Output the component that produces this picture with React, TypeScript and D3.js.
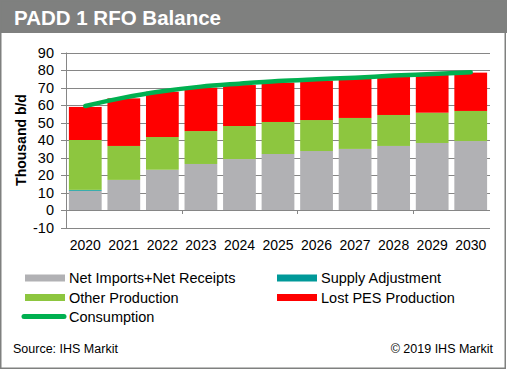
import * as d3 from "d3";

const years = ["2020", "2021", "2022", "2023", "2024", "2025", "2026", "2027", "2028", "2029", "2030"];
const netImports = [11, 17.2, 23, 26.3, 29.1, 32, 33.7, 34.9, 36.6, 38.3, 39.4];
const supplyAdj = [0.5, 0, 0, 0, 0, 0, 0, 0, 0, 0, 0];
const otherProd = [28.5, 19.4, 18.7, 18.8, 18.9, 18.3, 17.7, 17.7, 17.7, 17.3, 17.2];
const lostPes = [18.9, 27.2, 25.9, 24.8, 23.4, 22.5, 22.5, 22.4, 21.9, 21.7, 21.9];
const consumption = [59.4, 64.2, 67.8, 70.5, 72.2, 73.7, 74.7, 75.6, 76.8, 77.7, 78.7];
const yTicks = [-10, 0, 10, 20, 30, 40, 50, 60, 70, 80, 90];

const W = 507;
const H = 370;
const font = "'Liberation Sans', Arial, sans-serif";

const seriesKeys = ["netImports", "supplyAdj", "otherProd", "lostPes"];
const colors: Record<string, string> = {
  netImports: "#b1b1b4",
  supplyAdj: "#009999",
  otherProd: "#8dc63f",
  lostPes: "#ff0000",
};
const lineColor = "#00b050";

export default function App() {
  const x = d3
    .scaleBand()
    .domain(years)
    .range([66, 490])
    .paddingInner(0.15)
    .paddingOuter(0.075);
  const y = d3.scaleLinear().domain([-10, 90]).range([227.5, 52.5]);

  // table for stacking
  const rows = years.map((yr, i) => ({
    year: yr,
    netImports: netImports[i],
    supplyAdj: supplyAdj[i],
    otherProd: otherProd[i],
    lostPes: lostPes[i],
  }));
  const stacked = d3.stack<any>().keys(seriesKeys)(rows);

  const line = d3
    .line<number>()
    .x((_, i) => (x(years[i]) as number) + x.bandwidth() / 2)
    .y((d) => y(d))
    .curve(d3.curveMonotoneX);

  const step = x.step();
  const x0 = 66;
  const x1 = 490;

  const legend = [
    { label: "Net Imports+Net Receipts", key: "netImports", col: 0, row: 0 },
    { label: "Supply Adjustment", key: "supplyAdj", col: 1, row: 0 },
    { label: "Other Production", key: "otherProd", col: 0, row: 1 },
    { label: "Lost PES Production", key: "lostPes", col: 1, row: 1 },
  ];
  const legendRowY = [278, 297.5, 316.5];
  const legendColX = [25, 277];

  return (
    <svg width={W} height={H} style={{ display: "block", position: "absolute", left: 0, top: 0 }}>
      <rect x={0} y={0} width={W} height={H} fill="#fff" />
      <rect x={0} y={0} width={W} height={33} fill="#7f807f" />
      <rect x={0.75} y={0.75} width={W - 2.5} height={H - 2.5} fill="none" stroke="#7f807f" strokeWidth={1.5} />
      <text x={14} y={24.5} fill="#fff" fontFamily={font} fontWeight="bold" fontSize={20.5}>
        PADD 1 RFO Balance
      </text>

      {/* gridlines + y ticks */}
      {yTicks.map((t) => (
        <g key={t}>
          <line x1={x0 - 5} x2={x1} y1={Math.round(y(t)) + 0.5} y2={Math.round(y(t)) + 0.5} stroke="#868686" strokeWidth={1} />
          <text
            x={54}
            y={y(t)}
            dy="0.35em"
            textAnchor="end"
            fontFamily={font}
            fontSize={14.5}
            fill="#000"
          >
            {t}
          </text>
        </g>
      ))}
      <line x1={x0 + 0.5} x2={x0 + 0.5} y1={y(90)} y2={y(-10) + 0.5} stroke="#868686" />

      {/* bars */}
      {stacked.map((s) => (
        <g key={s.key} fill={colors[s.key]}>
          {s.map((d, i) => (
            <rect
              key={i}
              x={x(years[i])}
              width={x.bandwidth()}
              y={y(d[1])}
              height={Math.max(0, y(d[0]) - y(d[1]))}
            />
          ))}
        </g>
      ))}

      {/* category ticks on zero line */}
      {[3, 6, 9].map((k) => (
        <line
          key={k}
          x1={Math.round(x0 + k * step) + 0.5}
          x2={Math.round(x0 + k * step) + 0.5}
          y1={y(0)}
          y2={y(0) + 4}
          stroke="#868686"
        />
      ))}

      <path d={line(consumption) || ""} fill="none" stroke={lineColor} strokeWidth={4.5} strokeLinecap="round" />

      {/* x labels */}
      {years.map((yr) => (
        <text
          key={yr}
          x={(x(yr) as number) + x.bandwidth() / 2}
          y={250}
          textAnchor="middle"
          fontFamily={font}
          fontSize={14}
          fill="#000"
        >
          {yr}
        </text>
      ))}

      <text
        transform="translate(26,140) rotate(-90)"
        textAnchor="middle"
        fontFamily={font}
        fontWeight="bold"
        fontSize={14}
        fill="#000"
      >
        Thousand b/d
      </text>

      {/* legend */}
      {legend.map((l) => (
        <g key={l.key}>
          <rect x={legendColX[l.col]} y={legendRowY[l.row] - 3.5} width={40} height={7} fill={colors[l.key]} />
          <text
            x={legendColX[l.col] + 44}
            y={legendRowY[l.row]}
            dy="0.35em"
            fontFamily={font}
            fontSize={14.5}
            fill="#000"
          >
            {l.label}
          </text>
        </g>
      ))}
      <line x1={24} x2={64} y1={legendRowY[2]} y2={legendRowY[2]} stroke={lineColor} strokeWidth={5} strokeLinecap="round" />
      <text x={69} y={legendRowY[2]} dy="0.35em" fontFamily={font} fontSize={14.5} fill="#000">
        Consumption
      </text>

      <text x={13} y={353} fontFamily={font} fontSize={12.5} fill="#000">
        Source: IHS Markit
      </text>
      <text x={493} y={353} textAnchor="end" fontFamily={font} fontSize={12.5} fill="#000">
        © 2019 IHS Markit
      </text>
    </svg>
  );
}
